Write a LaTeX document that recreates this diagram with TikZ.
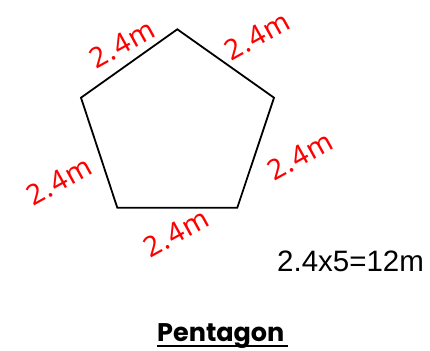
\documentclass[tikz,border=0pt]{standalone}
\usepackage{fontspec}
\setmainfont{Liberation Sans}
\newfontfamily\popfont{Poppins}
\newfontfamily\handfont[LetterSpace=4]{Noto Sans}
\begin{document}
\begin{tikzpicture}[x=1pt,y=-1pt,
  edge/.style={line width=1.8pt,line join=miter},
  hand/.style={text=red,font=\handfont\fontsize{28}{28}\selectfont,rotate=29,inner sep=0pt},
  calc/.style={font=\fontsize{29.5}{30}\selectfont,anchor=base west,inner sep=0pt},
  title/.style={font=\popfont\bfseries\fontsize{25.5}{26}\selectfont,anchor=base west,inner sep=0pt}]
\useasboundingbox (0,0) rectangle (430,350);
\fill[white] (0,0) rectangle (430,350);
\coordinate (top) at (177.3,29.3);
\coordinate (rt) at (274,97.7);
\coordinate (br) at (237.3,207.7);
\coordinate (bl) at (117.3,207.7);
\coordinate (lt) at (81,97.7);
\draw[edge] (top) -- (rt) -- (br) -- (bl) -- (lt) -- cycle;
\node[hand] (l1) at (122,44) {2.4m};
\node[hand] (l2) at (257,36) {2.4m};
\node[hand] (l3) at (300,156) {2.4m};
\node[hand] (l4) at (59,181) {2.4m};
\node[hand] (l5) at (176,233) {2.4m};
\node[calc] (calc) at (277,271.5) {2.4x5=12m};
\node[title] (ttl) at (157,341) {Pentagon};
\coordinate (u1) at (157,346);
\coordinate (u2) at (288,346);
\draw[line width=2.5pt] (u1) -- (u2);
\end{tikzpicture}
\end{document}
